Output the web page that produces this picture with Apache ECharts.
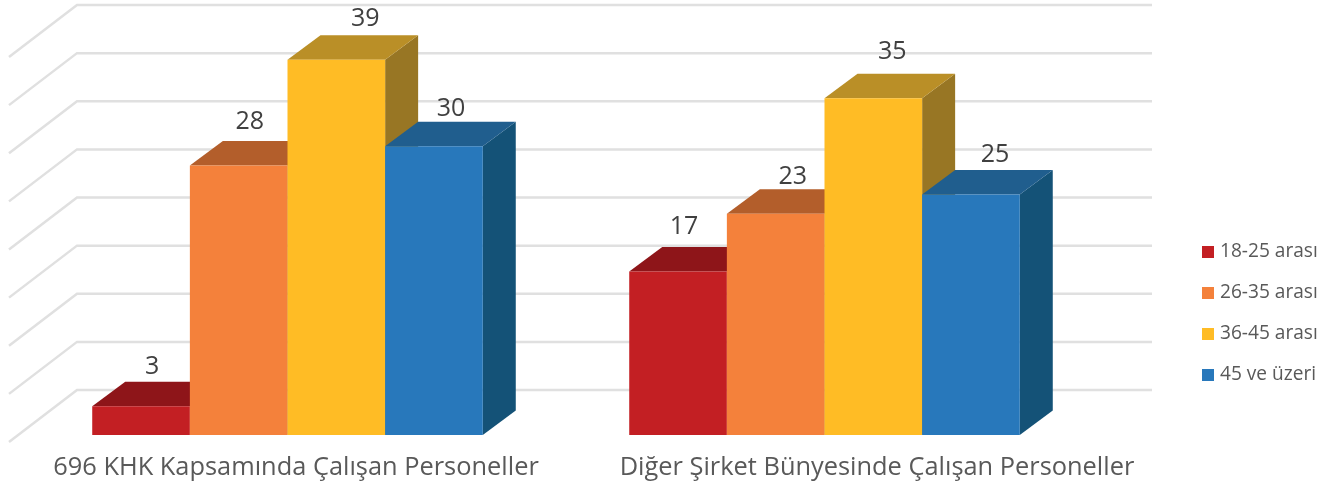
<!DOCTYPE html>
<html><head><meta charset="utf-8">
<style>html,body{margin:0;padding:0;background:#fff}#c{width:1326px;height:488px}</style>
<script src="https://cdn.jsdelivr.net/npm/echarts@6/dist/echarts.min.js"></script>
</head><body><div id="c"></div>
<script>
const categories = ['696 KHK Kapsamında Çalışan Personeller', 'Diğer Şirket Bünyesinde Çalışan Personeller'];
const seriesNames = ['18-25 arası', '26-35 arası', '36-45 arası', '45 ve üzeri'];
const age18to25 = [3, 17];
const age26to35 = [28, 23];
const age36to45 = [39, 35];
const age45plus = [30, 25];
const gridTicks = [0, 5, 10, 15, 20, 25, 30, 35, 40];

const seriesValues = [age18to25, age26to35, age36to45, age45plus];
const frontColors = ['#C31F23', '#F4813B', '#FFBC25', '#2878BB'];
const topColors = ['#8E1519', '#B35E2B', '#BA8F27', '#205E8E'];
const sideColors = ['#7A1215', '#98501F', '#987624', '#145277'];
const labelNudgeX = [[11, 6], [11, 17], [29, 19], [17, 24]];
const labelNudgeY = [[3, -2], [-1, 6], [2, -4], [5, 3]];
const DX = 33, DY = 24.5, FONT = '"Open Sans", sans-serif';

function poly(points, fill) {
  return { type: 'polygon', shape: { points }, style: { fill }, silent: true };
}
function barRenderer(si) {
  return function (params, api) {
    const cat = api.value(0), v = api.value(1);
    const top = api.coord([cat, v]), base = api.coord([cat, 0]);
    const bw = api.size([1, 0])[0] / 5.5;
    const x0 = top[0] - 2 * bw + si * bw, x1 = x0 + bw;
    const yt = top[1], yb = base[1];
    return {
      type: 'group',
      children: [
        poly([[x1, yb], [x1 + DX, yb - DY], [x1 + DX, yt - DY], [x1, yt]], sideColors[si]),
        poly([[x0, yt], [x0 + DX, yt - DY], [x1 + DX, yt - DY], [x1, yt]], topColors[si]),
        poly([[x0, yb], [x0, yt], [x1, yt], [x1, yb]], frontColors[si]),
        { type: 'text', silent: true, style: {
            x: (x0 + x1) / 2 + labelNudgeX[si][cat], y: yt - DY - 18 + labelNudgeY[si][cat],
            text: String(v), fill: '#404040', font: '25px ' + FONT,
            align: 'center', verticalAlign: 'middle' } }
      ]
    };
  };
}
function wallRenderer(params, api) {
  const y = api.coord([0, api.value(0)])[1];
  const cs = params.coordSys;
  return {
    type: 'polyline', silent: true,
    shape: { points: [[cs.x - 10, y + 7], [cs.x + 58, y - 45], [cs.x + cs.width + 59, y - 45]] },
    style: { stroke: '#E0E0E0', lineWidth: 2.5, fill: null }
  };
}

const chart = echarts.init(document.getElementById('c'), null, { renderer: 'canvas' });
chart.setOption({
  animation: false,
  backgroundColor: '#fff',
  grid: [
    { left: 19, width: 1074, top: 50, bottom: 53 },
    { left: 5.5, width: 1162, top: 50, bottom: 53 }
  ],
  xAxis: [
    { type: 'category', gridIndex: 0, data: categories, show: false },
    { type: 'category', gridIndex: 1, data: categories,
      axisLine: { show: false }, axisTick: { show: false },
      axisLabel: { color: '#595959', fontFamily: FONT, fontSize: 25.4, margin: 20, interval: 0 } }
  ],
  yAxis: [
    { type: 'value', gridIndex: 0, min: 0, max: 40, interval: 5, show: false },
    { type: 'value', gridIndex: 1, min: 0, max: 40, interval: 5, show: false }
  ],
  legend: {
    orient: 'vertical', left: 1197, top: 234,
    itemWidth: 12, itemHeight: 12, itemGap: 15,
    icon: 'rect', selectedMode: false,
    data: seriesNames,
    textStyle: { color: '#595959', fontFamily: FONT, fontSize: 19.1, lineHeight: 26, padding: [0, 0, 0, 1] }
  },
  series: [
    { type: 'custom', name: 'walls', coordinateSystem: 'cartesian2d', xAxisIndex: 0, yAxisIndex: 0,
      data: gridTicks.map(t => [t]), encode: { y: 0 }, renderItem: wallRenderer, clip: false, silent: true, z: 1 }
  ].concat(seriesNames.map((name, si) => ({
    type: 'custom', name, coordinateSystem: 'cartesian2d', xAxisIndex: 0, yAxisIndex: 0,
    itemStyle: { color: frontColors[si] },
    data: seriesValues[si].map((v, c) => [c, v]),
    encode: { x: 0, y: 1 },
    renderItem: barRenderer(si), clip: false, silent: true, z: 2 + si
  })))
});
</script></body></html>
